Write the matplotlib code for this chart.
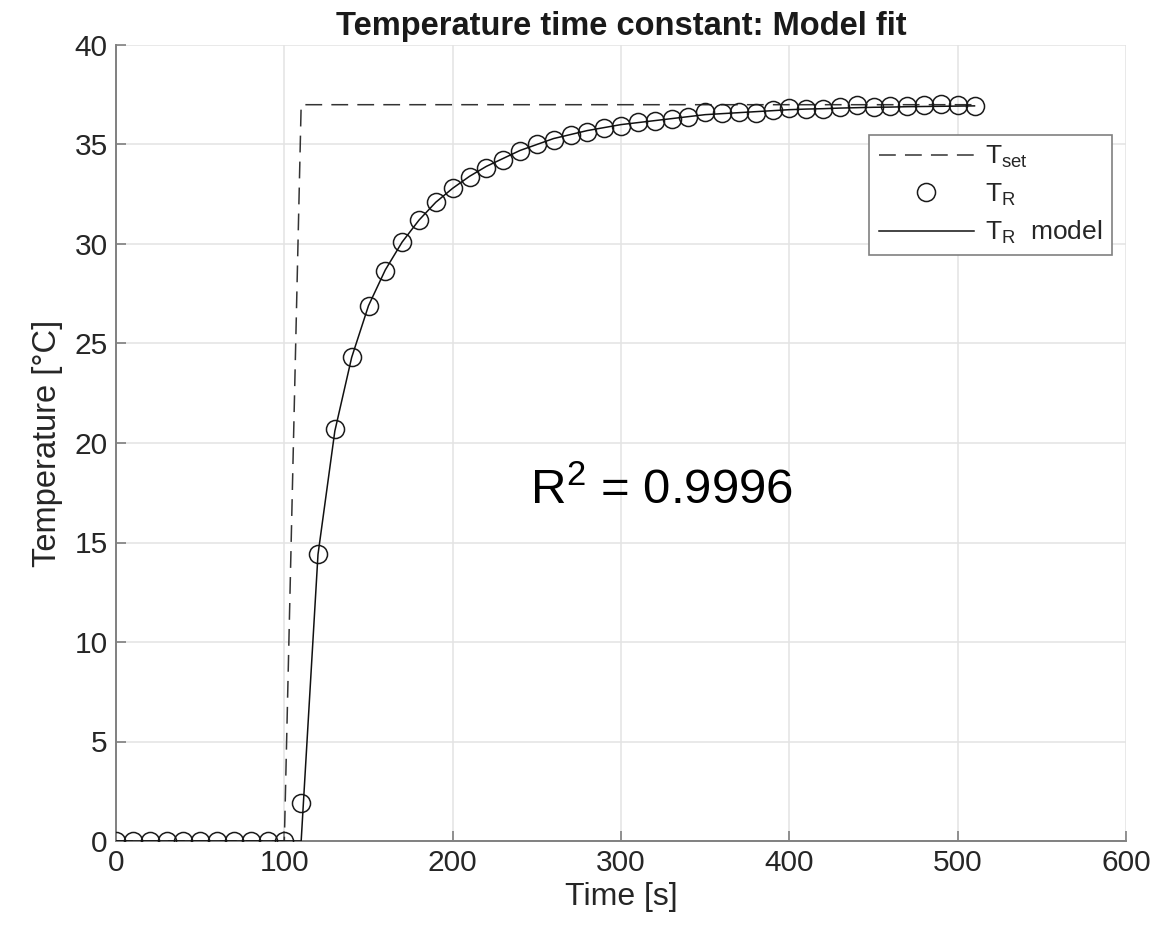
import matplotlib
matplotlib.use("Agg")
import matplotlib.pyplot as plt

plt.rcParams['font.family'] = ['Liberation Sans', 'DejaVu Sans']
plt.rcParams['mathtext.fontset'] = 'custom'
plt.rcParams['mathtext.rm'] = 'Liberation Sans'
plt.rcParams['mathtext.it'] = 'Liberation Sans:italic'
plt.rcParams['mathtext.bf'] = 'Liberation Sans:bold'

# ---- data ----
t_data = [0, 10, 20, 30, 40, 50, 60, 70, 80, 90, 100, 110, 120, 130, 140, 150,
          160, 170, 180, 190, 200, 210, 220, 230, 240, 250, 260, 270, 280, 290,
          300, 310, 320, 330, 340, 350, 360, 370, 380, 390, 400, 410, 420, 430,
          440, 450, 460, 470, 480, 490, 500, 510]
T_data = [0, 0, 0, 0, 0, 0, 0, 0, 0, 0, 0, 1.89, 14.43, 20.71, 24.30, 26.88,
          28.65, 30.09, 31.19, 32.10, 32.80, 33.38, 33.84, 34.24, 34.66, 35.04,
          35.24, 35.46, 35.61, 35.83, 35.91, 36.13, 36.18, 36.29, 36.39, 36.63,
          36.59, 36.63, 36.59, 36.73, 36.84, 36.76, 36.76, 36.90, 37.01, 36.90,
          36.93, 36.95, 36.97, 37.02, 37.00, 36.93]

t_set = [0, 10, 20, 30, 40, 50, 60, 70, 80, 90, 100, 110, 510]
T_set = [0, 0, 0, 0, 0, 0, 0, 0, 0, 0, 0, 37, 37]

t_model = [0, 110, 120, 130, 140, 150, 160, 170, 180, 190, 200, 210, 220, 230,
           240, 250, 260, 270, 280, 290, 300, 310, 320, 330, 340, 350, 360, 370,
           380, 390, 400, 410, 420, 430, 440, 450, 460, 470, 480, 490, 500, 510]
T_model = [0, 0, 14.4, 20.6, 24.3, 26.9, 28.7, 30.1, 31.2, 32.1, 32.8, 33.4,
           33.9, 34.3, 34.7, 35.0, 35.3, 35.5, 35.7, 35.85, 36.0, 36.1, 36.2,
           36.3, 36.4, 36.5, 36.55, 36.6, 36.65, 36.7, 36.75, 36.78, 36.8,
           36.83, 36.85, 36.87, 36.88, 36.9, 36.91, 36.92, 36.93, 36.94]

x_ticks = [0, 100, 200, 300, 400, 500, 600]
y_ticks = [0, 5, 10, 15, 20, 25, 30, 35, 40]

fig = plt.figure(figsize=(11.7, 9.26), dpi=100)
ax = fig.add_axes([116/1170, 1-841/926, 1010/1170, 796/926])

ax.grid(True, color='#e3e3e3', lw=1.1, zorder=0)
ax.set_axisbelow(True)

ln_set, = ax.plot(t_set, T_set, color='#333333', lw=1.1, dashes=(11, 6),
                  label=r'$\mathrm{T_{set}}$', zorder=3)
ln_data, = ax.plot(t_data, T_data, ls='none', marker='o', ms=13, mfc='none',
                   mec='#1a1a1a', mew=1.1, label=r'$\mathrm{T_R}$', zorder=4)
ln_model, = ax.plot(t_model, T_model, color='#111111', lw=1.1,
                    label=r'$\mathrm{T_R}$  model', zorder=5)

ax.set_xlim(0, 600)
ax.set_ylim(0, 40)
ax.set_xticks(x_ticks)
ax.set_yticks(y_ticks)

for s in ['top', 'right']:
    ax.spines[s].set_visible(False)
for s in ['left', 'bottom']:
    ax.spines[s].set_color('#808080')
    ax.spines[s].set_linewidth(1.4)

ax.tick_params(direction='in', length=7, width=1.2, color='#808080',
               labelsize=21.5, labelcolor='#262626', pad=6)

ax.set_xlabel('Time [s]', fontsize=23, color='#262626', labelpad=3)
ax.set_ylabel('Temperature [°C]', fontsize=23.5, color='#262626', labelpad=8)
ax.set_title('Temperature time constant: Model fit', fontsize=23.5,
             fontweight='bold', color='#1a1a1a', pad=7)

ax.text(246, 17.6, r'$\mathrm{R^2}$ = 0.9996', fontsize=35.5, color='black',
        ha='left', va='center')

leg = ax.legend(handles=[ln_set, ln_data, ln_model], loc='upper right',
                bbox_to_anchor=(0.986, 0.887), fontsize=19, frameon=True,
                fancybox=False, handlelength=3.6, handletextpad=0.45,
                borderpad=0.35, labelspacing=0.42, borderaxespad=0)
leg.get_frame().set_edgecolor('#808080')
leg.get_frame().set_linewidth(1.2)
leg.get_frame().set_alpha(1)
for txt in leg.get_texts():
    txt.set_color('#262626')

fig.savefig('out.png', dpi=100)
